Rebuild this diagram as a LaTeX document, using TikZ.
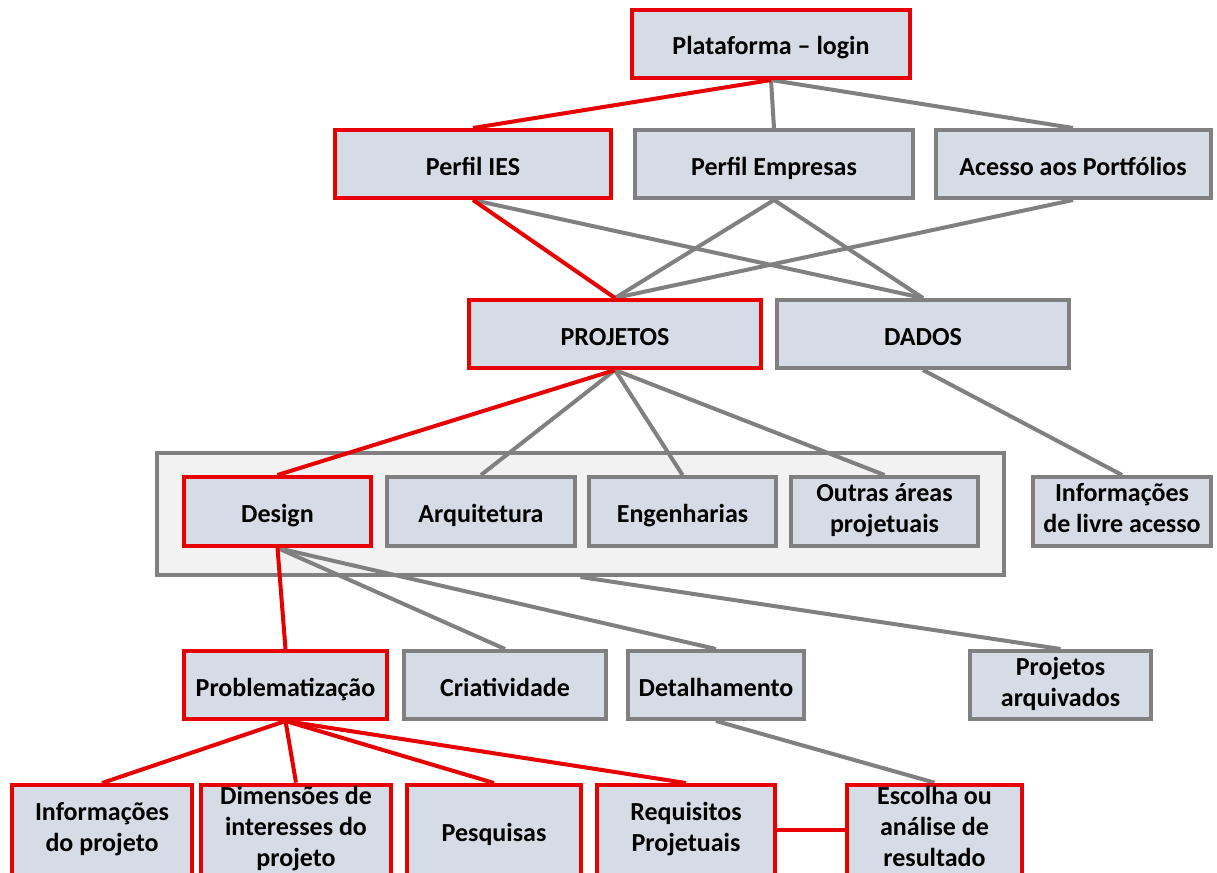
\documentclass[tikz,border=0pt]{standalone}
\usepackage{fontspec}
\setmainfont{Carlito}
\pgfdeclarelayer{back}
\pgfdeclarelayer{mid}
\pgfsetlayers{back,mid,main}
\definecolor{cred}{RGB}{232,0,0}
\definecolor{cgray}{RGB}{128,128,128}
\definecolor{cfill}{RGB}{214,220,229}
\definecolor{cbg}{RGB}{242,242,242}
\newcommand{\topstrut}{\rule{0pt}{28.5pt}}
\newcommand{\botstrut}{\rule[-6.5pt]{0pt}{6.5pt}}
\tikzset{
  box/.style={draw, line width=4pt, fill=cfill, inner sep=2pt, align=center,
    font=\fontsize{26}{31}\selectfont\bfseries, minimum height=68pt,
    execute at begin node=\topstrut, execute at end node=\botstrut},
  redbox/.style={box, draw=cred},
  graybox/.style={box, draw=cgray},
  redline/.style={draw=cred, line width=4pt},
  grayline/.style={draw=cgray, line width=4pt}
}
\begin{document}
\begin{tikzpicture}[x=1pt,y=-1pt]
\useasboundingbox (0,0) rectangle (1217,872);
\clip (0,0) rectangle (1217,872);
% container
\begin{pgfonlayer}{back}
\node[draw=cgray, fill=cbg, line width=4pt, minimum width=847pt, minimum height=122pt, inner sep=0pt] (cont) at (580.5,514) {};
\end{pgfonlayer}
% nodes
\node[redbox, minimum width=278pt] (plat) at (771,44) {Plataforma -- login};
\node[redbox, minimum width=276pt] (ies) at (473,164) {Perfil IES};
\node[graybox, minimum width=278pt] (emp) at (774,164) {Perfil Empresas};
\node[graybox, minimum width=275pt] (ace) at (1073,164) {Acesso aos Portfólios};
\node[redbox, minimum width=292pt] (proj) at (615,334) {PROJETOS};
\node[graybox, minimum width=292pt] (dados) at (923,334) {DADOS};
\node[redbox, minimum width=187pt, minimum height=69pt] (design) at (277.5,511.5) {Design};
\node[graybox, minimum width=188pt, minimum height=69pt] (arq) at (481,511.5) {Arquitetura};
\node[graybox, minimum width=187pt, minimum height=69pt] (eng) at (682.5,511.5) {Engenharias};
\node[graybox, minimum width=187pt, minimum height=69pt] (outras) at (884.5,511.5) {Outras áreas\\projetuais};
\node[graybox, minimum width=178pt, minimum height=69pt] (livre) at (1122,511.5) {Informações\\de livre acesso};
\node[redbox, minimum width=203pt] (prob) at (285.5,685) {Problematização};
\node[graybox, minimum width=202pt] (cri) at (505,685) {Criatividade};
\node[graybox, minimum width=176pt] (det) at (716,685) {Detalhamento};
\node[graybox, minimum width=181pt] (arqv) at (1060.5,685) {Projetos\\arquivados};
\node[redbox, minimum width=180pt, minimum height=90pt] (info) at (102,830) {Informações\\do projeto};
\node[redbox, minimum width=190pt, minimum height=90pt] (dim) at (296,830) {Dimensões de\\interesses do\\projeto};
\node[redbox, minimum width=174pt, minimum height=90pt] (pesq) at (494,830) {Pesquisas};
\node[redbox, minimum width=178pt, minimum height=90pt] (req) at (686,830) {Requisitos\\Projetuais};
\node[redbox, minimum width=175pt, minimum height=90pt] (esc) at (934.5,830) {Escolha ou\\análise de\\resultado};
% connectors
\begin{pgfonlayer}{mid}
\draw[grayline] (plat.south) -- (emp.north);
\draw[grayline] (plat.south) -- (ace.north);
\draw[redline] (plat.south) -- (ies.north);
\draw[grayline] (ies.south) -- (dados.north);
\draw[grayline] (emp.south) -- (proj.north);
\draw[grayline] (emp.south) -- (dados.north);
\draw[grayline] (ace.south) -- (proj.north);
\draw[redline] (ies.south) -- (proj.north);
\draw[grayline] (proj.south) -- (arq.north);
\draw[grayline] (proj.south) -- (eng.north);
\draw[grayline] (proj.south) -- (outras.north);
\draw[redline] (proj.south) -- (design.north);
\draw[grayline] (dados.south) -- (livre.north);
\draw[grayline] (design.south) -- (cri.north);
\draw[grayline] (design.south) -- (det.north);
\draw[grayline] (cont.south) -- (arqv.north);
\draw[redline] (design.south) -- (prob.north);
\draw[redline] (prob.south) -- (info.north);
\draw[redline] (prob.south) -- (dim.north);
\draw[redline] (prob.south) -- (pesq.north);
\draw[redline] (prob.south) -- (req.north);
\draw[grayline] (det.south) -- (esc.north);
\draw[redline] (req.east) -- (esc.west);
\end{pgfonlayer}
\end{tikzpicture}
\end{document}
